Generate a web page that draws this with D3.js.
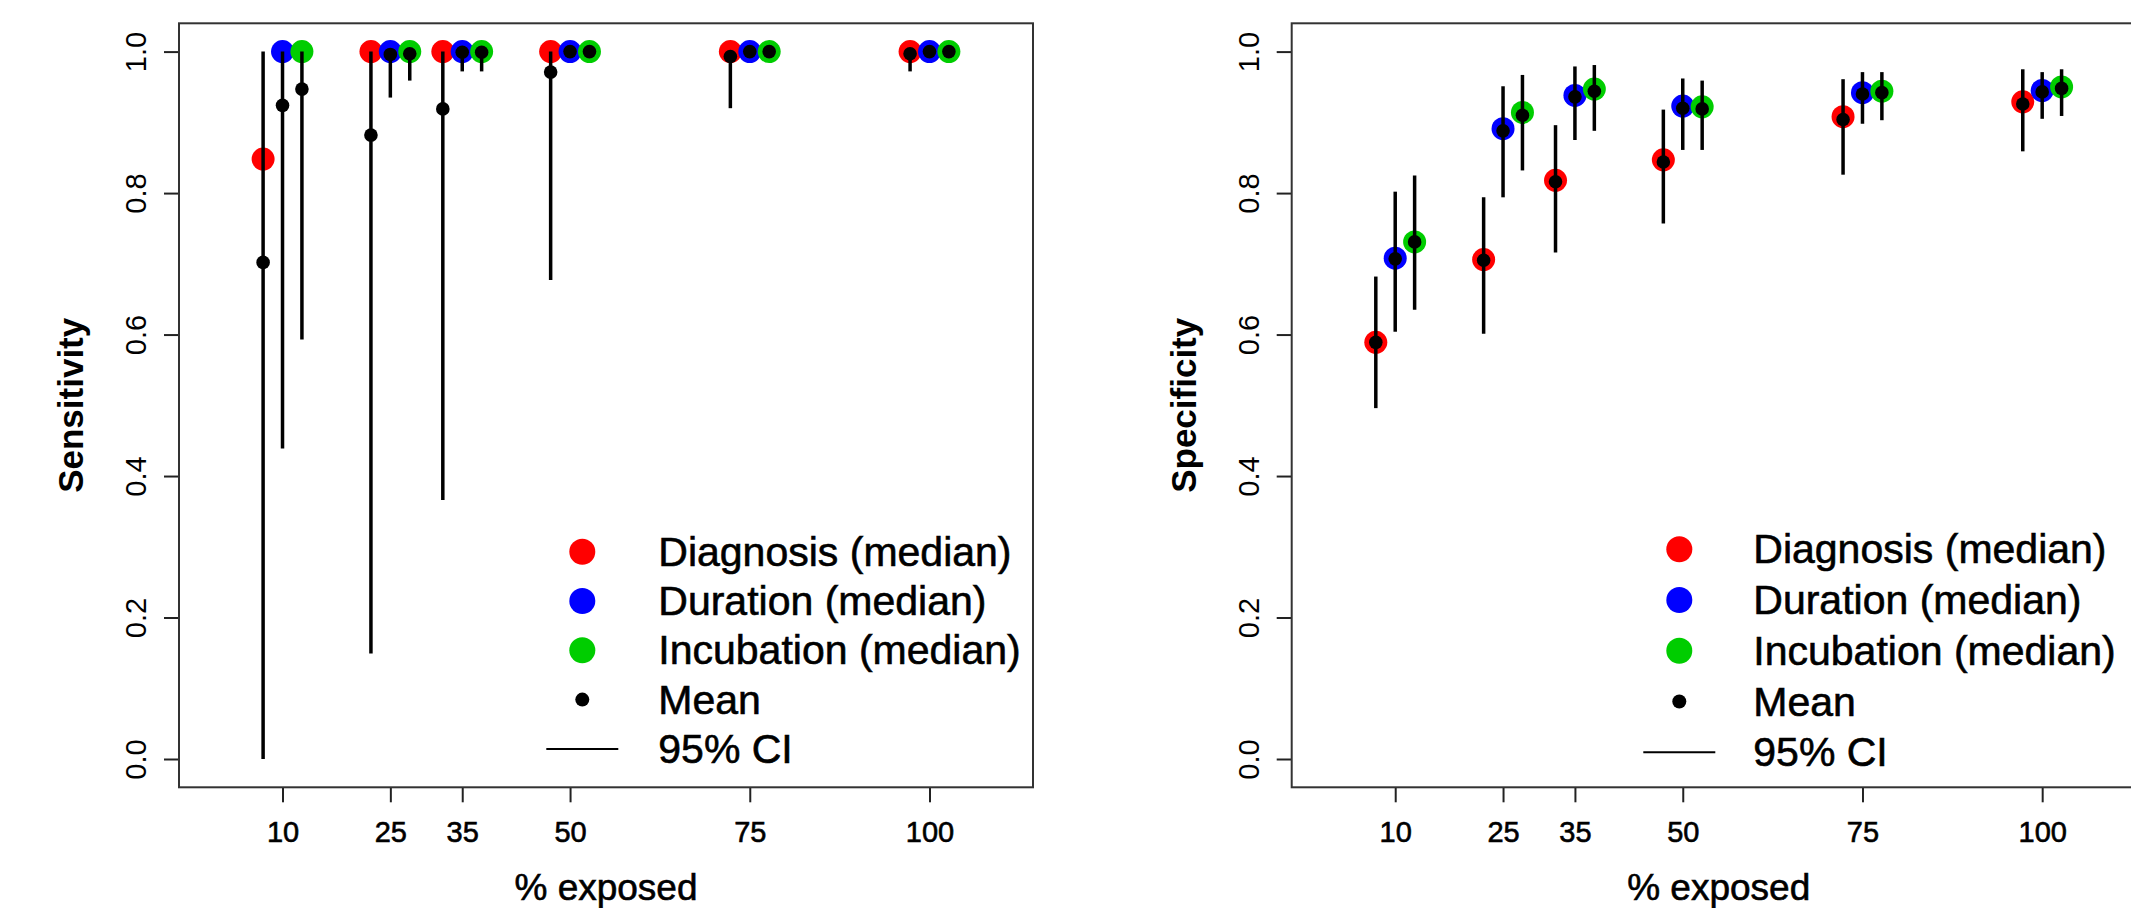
<!DOCTYPE html>
<html>
<head>
<meta charset="utf-8">
<script src="https://cdn.jsdelivr.net/npm/d3@7"></script>
<style>
  html, body { margin: 0; padding: 0; background: #fff; }
  svg { display: block; font-family: "Liberation Sans", Arial, Helvetica, sans-serif; }
  .heavy { stroke: #000; stroke-width: 0.6px; }
</style>
</head>
<body>
<svg id="chart" width="2131" height="908"></svg>
<script>
// % exposed groups and the x jitter used for the three methods
const exposure = [10, 25, 35, 50, 75, 100];
const methodNames = ['Diagnosis (median)', 'Duration (median)', 'Incubation (median)'];
const methodColors = ['#ff0000', '#0000ff', '#00cd00'];
const methodOffset = [-2.7, 0, 2.7];
const yTicks = [0, 0.2, 0.4, 0.6, 0.8, 1.0];

// sensitivity
const sensDiagnosisMedian = [0.848, 1, 1, 1, 1, 1];
const sensDiagnosisMean   = [0.702, 0.882, 0.919, 0.971, 0.993, 0.997];
const sensDiagnosisLow    = [0.0, 0.149, 0.366, 0.677, 0.920, 0.972];
const sensDiagnosisHigh   = [1, 1, 1, 1, 1, 1];
const sensDurationMedian  = [1, 1, 1, 1, 1, 1];
const sensDurationMean    = [0.924, 0.996, 0.999, 1, 1, 1];
const sensDurationLow     = [0.439, 0.935, 0.972, 1, 1, 1];
const sensDurationHigh    = [1, 1, 1, 1, 1, 1];
const sensIncubationMedian = [1, 1, 1, 1, 1, 1];
const sensIncubationMean   = [0.947, 0.997, 0.999, 1, 1, 1];
const sensIncubationLow    = [0.593, 0.959, 0.972, 1, 1, 1];
const sensIncubationHigh   = [1, 1, 1, 1, 1, 1];

// specificity
const specDiagnosisMedian = [0.589, 0.706, 0.818, 0.847, 0.908, 0.929];
const specDiagnosisMean   = [0.589, 0.705, 0.816, 0.844, 0.904, 0.926];
const specDiagnosisLow    = [0.496, 0.601, 0.716, 0.757, 0.826, 0.859];
const specDiagnosisHigh   = [0.682, 0.794, 0.896, 0.918, 0.961, 0.975];
const specDurationMedian  = [0.708, 0.891, 0.938, 0.923, 0.942, 0.945];
const specDurationMean    = [0.707, 0.888, 0.936, 0.920, 0.940, 0.943];
const specDurationLow     = [0.604, 0.794, 0.875, 0.861, 0.898, 0.905];
const specDurationHigh    = [0.802, 0.951, 0.979, 0.962, 0.971, 0.971];
const specIncubationMedian = [0.731, 0.914, 0.947, 0.922, 0.944, 0.950];
const specIncubationMean   = [0.731, 0.910, 0.944, 0.919, 0.942, 0.948];
const specIncubationLow    = [0.635, 0.832, 0.888, 0.861, 0.903, 0.909];
const specIncubationHigh   = [0.825, 0.967, 0.981, 0.959, 0.971, 0.975];

function buildRows(medians, means, lows, highs) {
    let rows = [];
    methodNames.forEach((name, m) => {
        exposure.forEach((e, i) => {
            rows.push({
                method: m,
                x: e + methodOffset[m],
                median: medians[m][i],
                mean: means[m][i],
                lo: lows[m][i],
                hi: highs[m][i]
            });
        });
    });
    return rows;
}

const sensRows = buildRows(
    [sensDiagnosisMedian, sensDurationMedian, sensIncubationMedian],
    [sensDiagnosisMean, sensDurationMean, sensIncubationMean],
    [sensDiagnosisLow, sensDurationLow, sensIncubationLow],
    [sensDiagnosisHigh, sensDurationHigh, sensIncubationHigh]);

const specRows = buildRows(
    [specDiagnosisMedian, specDurationMedian, specIncubationMedian],
    [specDiagnosisMean, specDurationMean, specIncubationMean],
    [specDiagnosisLow, specDurationLow, specIncubationLow],
    [specDiagnosisHigh, specDurationHigh, specIncubationHigh]);

const svg = d3.select('#chart');

const plotW = 854;
const plotTop = 23.3, plotBottom = 787.3;

function drawPanel(left, rows, yLabel, legendPos) {
    // R style: xlim 0..110 and ylim 0..1, each padded by 4%
    let x = d3.scaleLinear().domain([-4.4, 114.4]).range([left, left + plotW]);
    let y = d3.scaleLinear().domain([-0.04, 1.04]).range([plotBottom, plotTop]);

    let g = svg.append('g');

    // x axis
    let xAxis = g.append('g')
        .attr('transform', `translate(0,${plotBottom})`)
        .call(d3.axisBottom(x).tickValues(exposure).tickSize(15).tickPadding(19).tickFormat(d3.format('d')));
    xAxis.select('.domain').remove();
    xAxis.attr('font-family', null);
    xAxis.selectAll('line').attr('stroke', '#222').attr('stroke-width', 2);
    xAxis.selectAll('text').attr('font-size', 29).attr('fill', '#000').attr('class', 'heavy');

    // y axis with rotated labels
    let yAxis = g.append('g')
        .attr('transform', `translate(${left},0)`)
        .call(d3.axisLeft(y).tickValues(yTicks).tickSize(15).tickFormat(d3.format('.1f')));
    yAxis.select('.domain').remove();
    yAxis.attr('font-family', null);
    yAxis.selectAll('line').attr('stroke', '#222').attr('stroke-width', 2);
    yAxis.selectAll('text')
        .attr('x', 0).attr('y', -33).attr('dy', null)
        .attr('transform', 'rotate(-90)')
        .attr('text-anchor', 'middle')
        .attr('font-size', 29).attr('fill', '#000');

    // box
    g.append('rect')
        .attr('x', left).attr('y', plotTop)
        .attr('width', plotW).attr('height', plotBottom - plotTop)
        .attr('fill', 'none').attr('stroke', '#333').attr('stroke-width', 2);

    // axis titles
    g.append('text')
        .attr('transform', `translate(${left - 96},${(plotTop + plotBottom) / 2}) rotate(-90)`)
        .attr('text-anchor', 'middle')
        .attr('font-size', 35).attr('font-weight', 'bold')
        .text(yLabel);

    g.append('text')
        .attr('x', left + plotW / 2).attr('y', 900)
        .attr('text-anchor', 'middle')
        .attr('font-size', 37)
        .attr('class', 'heavy')
        .text('% exposed');

    // medians
    g.selectAll('.median')
        .data(rows)
        .enter()
            .append('circle')
            .attr('class', 'median')
            .attr('cx', d => x(d.x))
            .attr('cy', d => y(d.median))
            .attr('r', 11.5)
            .attr('fill', d => methodColors[d.method]);

    // 95% CI
    g.selectAll('.ci')
        .data(rows)
        .enter()
            .append('line')
            .attr('class', 'ci')
            .attr('x1', d => x(d.x)).attr('x2', d => x(d.x))
            .attr('y1', d => y(d.lo)).attr('y2', d => y(d.hi))
            .attr('stroke', '#000').attr('stroke-width', 3.5);

    // means
    g.selectAll('.mean')
        .data(rows)
        .enter()
            .append('circle')
            .attr('class', 'mean')
            .attr('cx', d => x(d.x))
            .attr('cy', d => y(d.mean))
            .attr('r', 6.8)
            .attr('fill', '#000');

    // legend
    let lg = g.append('g');
    let items = methodNames.map((n, i) => ({ label: n, kind: 'median', color: methodColors[i] }))
        .concat([{ label: 'Mean', kind: 'mean' }, { label: '95% CI', kind: 'ci' }]);

    items.forEach((it, i) => {
        let cy = legendPos.y0 + i * legendPos.step;
        if (it.kind === 'median') {
            lg.append('circle').attr('cx', legendPos.sym).attr('cy', cy).attr('r', 13).attr('fill', it.color);
        } else if (it.kind === 'mean') {
            lg.append('circle').attr('cx', legendPos.sym).attr('cy', cy).attr('r', 7).attr('fill', '#000');
        } else {
            lg.append('line')
                .attr('x1', legendPos.sym - 36).attr('x2', legendPos.sym + 36)
                .attr('y1', cy).attr('y2', cy)
                .attr('stroke', '#000').attr('stroke-width', 2);
        }
        lg.append('text')
            .attr('x', legendPos.text).attr('y', cy + 14)
            .attr('font-size', 41)
            .attr('class', 'heavy')
            .text(it.label);
    });
}

drawPanel(179, sensRows, 'Sensitivity', { sym: 582.3, text: 658.3, y0: 551.7, step: 49.3 });
drawPanel(1291.7, specRows, 'Specificity', { sym: 1679.3, text: 1753.3, y0: 549.3, step: 50.75 });
</script>
</body>
</html>
